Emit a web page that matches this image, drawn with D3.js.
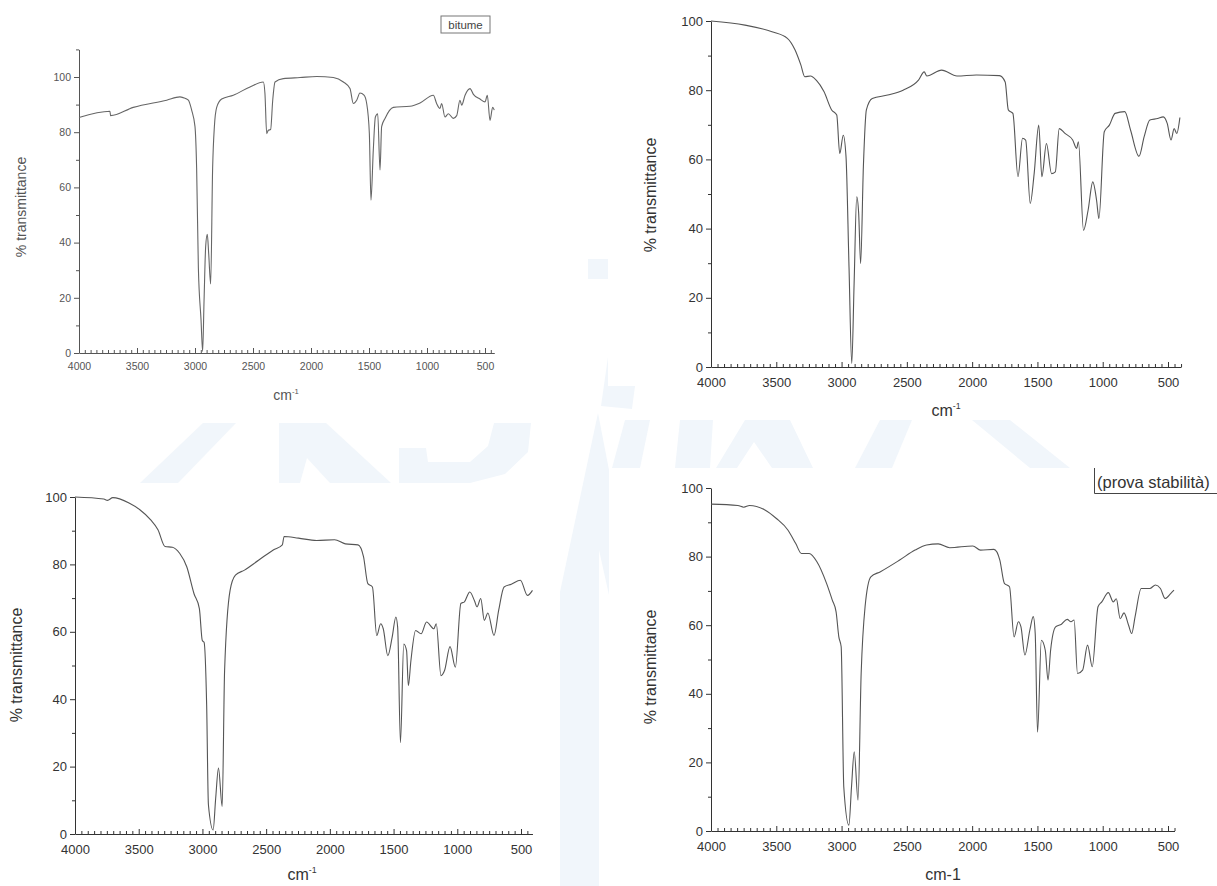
<!DOCTYPE html>
<html>
<head>
<meta charset="utf-8">
<script src="https://cdn.jsdelivr.net/npm/d3@7"></script>
<style>
  html, body { margin: 0; padding: 0; background: #fff; }
  svg { display: block; font-family: "Liberation Sans", Arial, sans-serif; }
</style>
</head>
<body>
<svg id="chart" width="1217" height="886"></svg>
<script>
// ---- axis ticks ----
const X_TICKS = [4000, 3500, 3000, 2500, 2000, 1500, 1000, 500];
const Y_TICKS = [0, 20, 40, 60, 80, 100];

// ---- spectrum: bitume (wavenumber cm-1, % transmittance) ----
const BITUME_WN = [4000, 3733, 3728, 3532, 3244, 3130, 3100, 3057, 3029, 3000, 2986, 2971, 2948, 2934, 2922, 2908, 2894, 2882, 2865, 2848, 2833, 2813, 2770, 2670, 2526, 2411, 2397, 2382, 2368, 2348, 2330, 2310, 2239, 2095, 1951, 1807, 1721, 1664, 1635, 1606, 1578, 1543, 1520, 1497, 1483, 1463, 1445, 1425, 1405, 1391, 1362, 1290, 1147, 1060, 945, 917, 888, 874, 845, 816, 773, 744, 716, 701, 672, 629, 600, 543, 500, 480, 457, 434, 420];
const BITUME_T  = [85.3, 87.6, 86.0, 89.0, 91.6, 92.8, 92.5, 91.6, 88.0, 82.0, 67.0, 31.0, 12.0, 0.6, 19.0, 38.6, 43.0, 36.0, 25.0, 67.0, 82.0, 89.0, 92.0, 93.4, 96.4, 98.2, 94.0, 79.5, 80.7, 81.0, 91.6, 98.2, 99.4, 99.8, 100.2, 99.8, 98.2, 95.8, 90.4, 91.6, 94.2, 93.4, 90.4, 79.5, 55.4, 73.5, 85.5, 86.7, 66.3, 82.0, 85.0, 89.0, 89.4, 90.6, 93.4, 90.4, 88.6, 90.4, 85.5, 86.7, 85.0, 86.0, 91.6, 89.8, 93.4, 95.8, 93.7, 92.0, 91.0, 93.4, 84.3, 89.0, 88.0];

// ---- spectrum: top-right sample ----
const SAMPLE_A_WN = [4000, 3740, 3533, 3415, 3356, 3312, 3282, 3238, 3194, 3135, 3076, 3037, 3014, 2987, 2966, 2943, 2922, 2904, 2884, 2869, 2854, 2833, 2810, 2765, 2647, 2529, 2411, 2367, 2347, 2234, 2116, 1968, 1791, 1747, 1723, 1688, 1649, 1614, 1590, 1555, 1525, 1490, 1466, 1431, 1392, 1363, 1333, 1289, 1230, 1200, 1186, 1147, 1112, 1076, 1047, 1029, 988, 949, 905, 831, 787, 722, 683, 639, 580, 536, 506, 477, 453, 433, 409];
const SAMPLE_A_T  = [100.0, 98.8, 96.9, 95.0, 91.6, 87.3, 83.9, 84.1, 82.9, 79.6, 74.3, 72.8, 61.7, 67.0, 60.8, 28.9, 1.0, 24.1, 49.2, 44.4, 29.9, 57.9, 74.3, 77.6, 78.6, 80.0, 82.9, 85.3, 84.1, 85.8, 84.1, 84.4, 84.2, 82.4, 74.3, 73.3, 55.0, 66.1, 65.6, 47.3, 55.9, 69.9, 55.0, 64.6, 55.9, 56.4, 68.9, 67.5, 65.6, 63.2, 65.1, 39.5, 45.3, 53.5, 48.2, 42.9, 68.0, 69.9, 73.3, 73.8, 68.5, 60.9, 66.5, 71.4, 71.8, 72.3, 70.4, 65.6, 68.9, 67.5, 72.1];

// ---- spectrum: bottom-left sample ----
const SAMPLE_B_WN = [4000, 3774, 3745, 3703, 3576, 3491, 3406, 3349, 3293, 3236, 3179, 3123, 3066, 3024, 3001, 2987, 2967, 2953, 2916, 2896, 2874, 2845, 2826, 2783, 2741, 2670, 2557, 2444, 2373, 2359, 2246, 2104, 1963, 1878, 1779, 1736, 1702, 1666, 1632, 1601, 1581, 1545, 1511, 1482, 1468, 1446, 1420, 1398, 1384, 1364, 1327, 1284, 1241, 1184, 1165, 1128, 1100, 1057, 1015, 972, 944, 902, 865, 845, 816, 788, 760, 712, 675, 633, 576, 505, 449, 410];
const SAMPLE_B_T  = [100.0, 99.4, 99.0, 99.8, 98.2, 96.2, 93.2, 90.3, 85.3, 85.1, 83.3, 79.3, 71.3, 66.9, 57.4, 56.9, 38.5, 8.7, 1.2, 10.6, 19.6, 8.2, 48.5, 72.3, 76.8, 78.3, 81.3, 84.3, 85.8, 88.3, 87.8, 87.1, 87.3, 86.1, 85.8, 82.3, 74.3, 73.3, 58.9, 62.4, 60.9, 52.9, 58.4, 64.4, 61.4, 27.1, 56.4, 54.4, 44.0, 51.4, 60.4, 59.4, 62.9, 60.9, 62.4, 47.0, 48.5, 55.6, 49.5, 68.4, 68.9, 71.8, 69.2, 67.4, 69.9, 63.4, 65.6, 58.9, 66.4, 73.3, 74.1, 75.3, 70.8, 72.3];

// ---- spectrum: bottom-right sample (prova stabilità) ----
const SAMPLE_C_WN = [4000, 3794, 3749, 3705, 3587, 3499, 3410, 3351, 3307, 3248, 3189, 3115, 3071, 3042, 3021, 3003, 2983, 2944, 2924, 2903, 2874, 2850, 2820, 2776, 2702, 2555, 2437, 2349, 2260, 2172, 1995, 1936, 1833, 1788, 1753, 1714, 1679, 1646, 1626, 1596, 1558, 1532, 1517, 1499, 1470, 1440, 1419, 1399, 1361, 1316, 1272, 1243, 1219, 1193, 1154, 1116, 1080, 1036, 1007, 957, 919, 896, 866, 837, 802, 778, 752, 705, 640, 596, 558, 522, 478, 454];
const SAMPLE_C_T  = [95.3, 94.9, 94.4, 94.9, 93.6, 91.1, 87.7, 83.8, 80.9, 80.9, 78.5, 72.2, 67.3, 63.9, 56.6, 53.7, 12.8, 1.7, 12.8, 23.1, 9.0, 45.9, 65.4, 74.1, 75.6, 79.0, 81.9, 83.4, 83.7, 82.6, 83.1, 81.9, 82.1, 79.0, 72.2, 71.2, 56.6, 61.0, 59.5, 51.3, 58.6, 62.5, 57.6, 28.8, 55.6, 52.7, 44.0, 52.7, 59.5, 60.3, 61.7, 61.0, 61.5, 45.9, 46.9, 54.2, 47.9, 65.4, 66.8, 69.5, 66.8, 67.7, 61.9, 63.6, 60.0, 57.6, 62.5, 70.7, 70.7, 71.7, 70.7, 67.8, 69.3, 70.2];

// ---- panel layout ----
const panels = [
  { wn: BITUME_WN, t: BITUME_T, x4000: 79, x500: 485, xEnd: 420, y0: 353, y100: 77, yMax: 110,
    tickFont: 10.5, titleFont: 14, supTitle: true, xTitle: [286, 400], yTitle: [21, 207],
    lineColor: "#666", axisColor: "#555", textColor: "#555" },
  { wn: SAMPLE_A_WN, t: SAMPLE_A_T, x4000: 711, x500: 1168, xEnd: 400, y0: 367, y100: 21, yMax: 100,
    tickFont: 13, titleFont: 16, supTitle: true, xTitle: [946, 416], yTitle: [650, 195],
    lineColor: "#555", axisColor: "#333", textColor: "#333" },
  { wn: SAMPLE_B_WN, t: SAMPLE_B_T, x4000: 75, x500: 521, xEnd: 410, y0: 834, y100: 497, yMax: 100,
    tickFont: 13, titleFont: 16, supTitle: true, xTitle: [302, 880], yTitle: [16, 665],
    lineColor: "#555", axisColor: "#333", textColor: "#333" },
  { wn: SAMPLE_C_WN, t: SAMPLE_C_T, x4000: 711, x500: 1168, xEnd: 450, y0: 831, y100: 488, yMax: 100,
    tickFont: 13, titleFont: 16, supTitle: false, xTitle: [943, 880], yTitle: [650, 667],
    lineColor: "#555", axisColor: "#333", textColor: "#333" }
];

const svg = d3.select("#chart");

// faint watermark lettering in the gaps between the four spectra
const WATERMARK = [
  [[140,483],[178,483],[236,423],[203,423]],
  [[279,423],[326,423],[391,483],[330,483],[307,458],[300,483],[279,483]],
  [[399,448],[426,448],[428,462],[470,462],[488,446],[494,423],[531,423],[528,452],[505,474],[470,483],[399,483]],
  [[588,259],[608,259],[608,279],[588,279]],
  [[608,357],[608,386],[635,386],[632,409],[601,406]],
  [[598,413],[609,470],[609,595],[599,550],[599,886],[560,886],[560,592]],
  [[625,420],[650,420],[640,468],[612,468]],
  [[680,420],[713,420],[710,468],[675,468]],
  [[745,420],[790,420],[813,468],[772,468],[754,442],[737,468],[716,468]],
  [[880,420],[912,420],[892,468],[855,468]],
  [[972,420],[1010,420],[1070,468],[1030,468]]
];
svg.append("g").selectAll("polygon").data(WATERMARK).join("polygon")
  .attr("points", d => d.map(p => p.join(",")).join(" "))
  .attr("fill", "#f1f6fb");

const fmt = d3.format("d");

panels.forEach(p => {
  const perUnit = (p.x500 - p.x4000) / 3500;
  const x = d3.scaleLinear().domain([4000, p.xEnd])
    .range([p.x4000, p.x4000 + (4000 - p.xEnd) * perUnit]);
  const yPer = (p.y0 - p.y100) / 100;
  const y = d3.scaleLinear().domain([0, p.yMax]).range([p.y0, p.y0 - p.yMax * yPer]);

  const g = svg.append("g");

  // minor x ticks every 50 cm-1, pointing into the plot
  const minorX = d3.range(4000, p.xEnd - 1, -50).filter(v => v % 500 !== 0);
  g.append("g").attr("transform", `translate(0,${p.y0})`)
    .call(d3.axisBottom(x).tickValues(minorX).tickSize(-3).tickSizeOuter(0).tickFormat(""))
    .call(a => a.select(".domain").remove())
    .call(a => a.selectAll("line").attr("stroke", p.axisColor));

  // major x ticks and labels
  g.append("g").attr("transform", `translate(0,${p.y0})`)
    .call(d3.axisBottom(x).tickValues(X_TICKS).tickFormat(fmt).tickSize(-5).tickSizeOuter(0)
      .tickPadding(p.tickFont * 0.55 + 4))
    .call(a => a.select(".domain").attr("stroke", p.axisColor))
    .call(a => a.selectAll(".tick line").attr("stroke", p.axisColor))
    .call(a => a.selectAll("text").attr("fill", p.textColor)
      .attr("font-size", p.tickFont).attr("font-family", "Liberation Sans, Arial, sans-serif"));

  // minor y ticks
  const minorY = d3.range(10, p.yMax + 1, 20);
  g.append("g").attr("transform", `translate(${p.x4000},0)`)
    .call(d3.axisLeft(y).tickValues(minorY).tickSize(3).tickSizeOuter(0).tickFormat(""))
    .call(a => a.select(".domain").remove())
    .call(a => a.selectAll("line").attr("stroke", p.axisColor));

  // major y ticks and labels
  g.append("g").attr("transform", `translate(${p.x4000},0)`)
    .call(d3.axisLeft(y).tickValues(Y_TICKS).tickFormat(fmt).tickSize(5).tickSizeOuter(0).tickPadding(3))
    .call(a => a.select(".domain").attr("stroke", p.axisColor))
    .call(a => a.selectAll(".tick line").attr("stroke", p.axisColor))
    .call(a => a.selectAll("text").attr("fill", p.textColor)
      .attr("font-size", p.tickFont).attr("font-family", "Liberation Sans, Arial, sans-serif"));

  // spectrum trace
  const pts = p.wn.map((w, i) => [w, p.t[i]]);
  g.append("path").datum(pts)
    .attr("fill", "none").attr("stroke", p.lineColor).attr("stroke-width", 1.1)
    .attr("stroke-linejoin", "round")
    .attr("d", d3.line().curve(d3.curveMonotoneX).x(d => x(d[0])).y(d => y(d[1])));

  // x axis title
  const xt = g.append("text").attr("x", p.xTitle[0]).attr("y", p.xTitle[1])
    .attr("text-anchor", "middle").attr("fill", p.textColor).attr("font-size", p.titleFont);
  if (p.supTitle) {
    xt.append("tspan").text("cm");
    xt.append("tspan").text("-1").attr("dy", -p.titleFont * 0.45).attr("font-size", p.titleFont * 0.55);
  } else {
    xt.text("cm-1");
  }

  // y axis title
  g.append("text")
    .attr("transform", `translate(${p.yTitle[0]},${p.yTitle[1]}) rotate(-90)`)
    .attr("text-anchor", "middle").attr("dy", "0.35em")
    .attr("fill", p.textColor).attr("font-size", p.titleFont)
    .text("% transmittance");
});

// sample labels
const tag1 = svg.append("g");
tag1.append("rect").attr("x", 441).attr("y", 16).attr("width", 49).attr("height", 17)
  .attr("fill", "none").attr("stroke", "#777").attr("stroke-width", 1);
tag1.append("text").attr("x", 465.5).attr("y", 29).attr("text-anchor", "middle")
  .attr("font-size", 11.5).attr("fill", "#444").text("bitume");

const tag2 = svg.append("g");
tag2.append("path").attr("d", "M1094.5,468 V493.5 H1217")
  .attr("fill", "none").attr("stroke", "#444").attr("stroke-width", 1);
tag2.append("text").attr("x", 1097).attr("y", 488)
  .attr("font-size", 16.5).attr("fill", "#333").text("(prova stabilità)");
</script>
</body>
</html>
